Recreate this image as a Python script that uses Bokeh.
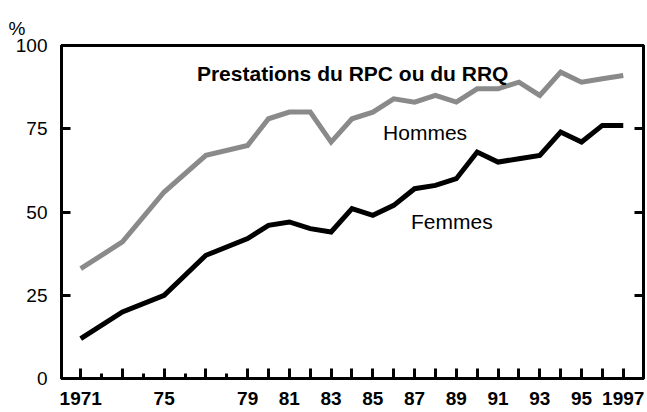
from bokeh.plotting import figure
from bokeh.models import Range1d, FixedTicker, LinearAxis, Title, Label
from bokeh.embed import file_html
from bokeh.resources import INLINE

years = [1971, 1973, 1975, 1977, 1979, 1980, 1981, 1982, 1983, 1984, 1985, 1986,
         1987, 1988, 1989, 1990, 1991, 1992, 1993, 1994, 1995, 1996, 1997]
hommes = [33, 41, 56, 67, 70, 78, 80, 80, 71, 78, 80, 84,
          83, 85, 83, 87, 87, 89, 85, 92, 89, 90, 91]
femmes = [12, 20, 25, 37, 42, 46, 47, 45, 44, 51, 49, 52,
          57, 58, 60, 68, 65, 66, 67, 74, 71, 76, 76]

x_ticks = years
x_minor = [1972, 1974, 1976, 1978]
x_labels = {1971: "1971", 1975: "75", 1979: "79", 1981: "81", 1983: "83", 1985: "85",
            1987: "87", 1989: "89", 1991: "91", 1993: "93", 1995: "95", 1997: "1997"}
y_ticks = [0, 25, 50, 75, 100]

FONT = "Liberation Sans"

p = figure(frame_width=582, frame_height=333, output_backend="svg", toolbar_location=None,
           x_range=Range1d(1970.08, 1997.97), y_range=Range1d(0, 100),
           min_border_left=61, min_border_right=4, min_border_top=45, min_border_bottom=30,
           x_axis_type=None, y_axis_type=None)
p.grid.visible = False
p.outline_line_color = "black"
p.outline_line_width = 3
p.background_fill_color = "white"
p.border_fill_color = "white"

# bottom axis
xa = LinearAxis(ticker=FixedTicker(ticks=x_ticks, minor_ticks=x_minor))
xa.major_label_overrides = {t: x_labels.get(t, "") for t in x_ticks}
xa.axis_line_width = 3
xa.major_tick_in = 10
xa.major_tick_out = 0
xa.major_tick_line_width = 3
xa.minor_tick_in = 5
xa.minor_tick_out = 0
xa.minor_tick_line_width = 3
xa.major_label_standoff = 13
xa.major_label_text_font = FONT
xa.major_label_text_font_style = "bold"
xa.major_label_text_font_size = "19px"
xa.major_label_text_color = "black"
p.add_layout(xa, "below")

# left axis
ya = LinearAxis(ticker=FixedTicker(ticks=y_ticks, minor_ticks=[]))
ya.axis_line_width = 3
ya.major_tick_in = 9
ya.major_tick_out = 0
ya.major_tick_line_width = 3
ya.major_label_standoff = 14
ya.major_label_text_font = FONT
ya.major_label_text_font_size = "19px"
ya.major_label_text_color = "black"
p.add_layout(ya, "left")

# right axis (ticks only)
ra = LinearAxis(ticker=FixedTicker(ticks=y_ticks, minor_ticks=[]))
ra.major_label_overrides = {t: "" for t in y_ticks}
ra.axis_line_width = 3
ra.major_tick_in = 9
ra.major_tick_out = 0
ra.major_tick_line_width = 3
ra.major_label_standoff = 0
p.add_layout(ra, "right")

t = Title(text="%", align="left", text_font=FONT, text_font_size="19px",
          text_font_style="normal", text_color="black", offset=-53, standoff=14)
p.add_layout(t, "above")

p.line(years, hommes, line_color="#8a8a8a", line_width=5, line_join="miter")
p.line(years, femmes, line_color="black", line_width=5, line_join="miter")

p.add_layout(Label(x=1983.47, y=112.1, text="Personnes de 65 à 69 ans",
                   text_font=FONT, text_font_style="bold", text_font_size="21px",
                   text_color="black", text_baseline="alphabetic", text_align="center"))
p.add_layout(Label(x=1976.57, y=91.6, text="Prestations du RPC ou du RRQ",
                   text_font=FONT, text_font_style="bold", text_font_size="21px",
                   text_color="black", text_baseline="alphabetic", text_align="left"))
p.add_layout(Label(x=1985.49, y=74.0, text="Hommes", text_font=FONT, text_color="black",
                   text_font_size="21px", text_baseline="alphabetic", text_align="left"))
p.add_layout(Label(x=1986.83, y=47.0, text="Femmes", text_font=FONT, text_color="black",
                   text_font_size="21px", text_baseline="alphabetic", text_align="left"))

open("out.html", "w").write(file_html(p, INLINE))
